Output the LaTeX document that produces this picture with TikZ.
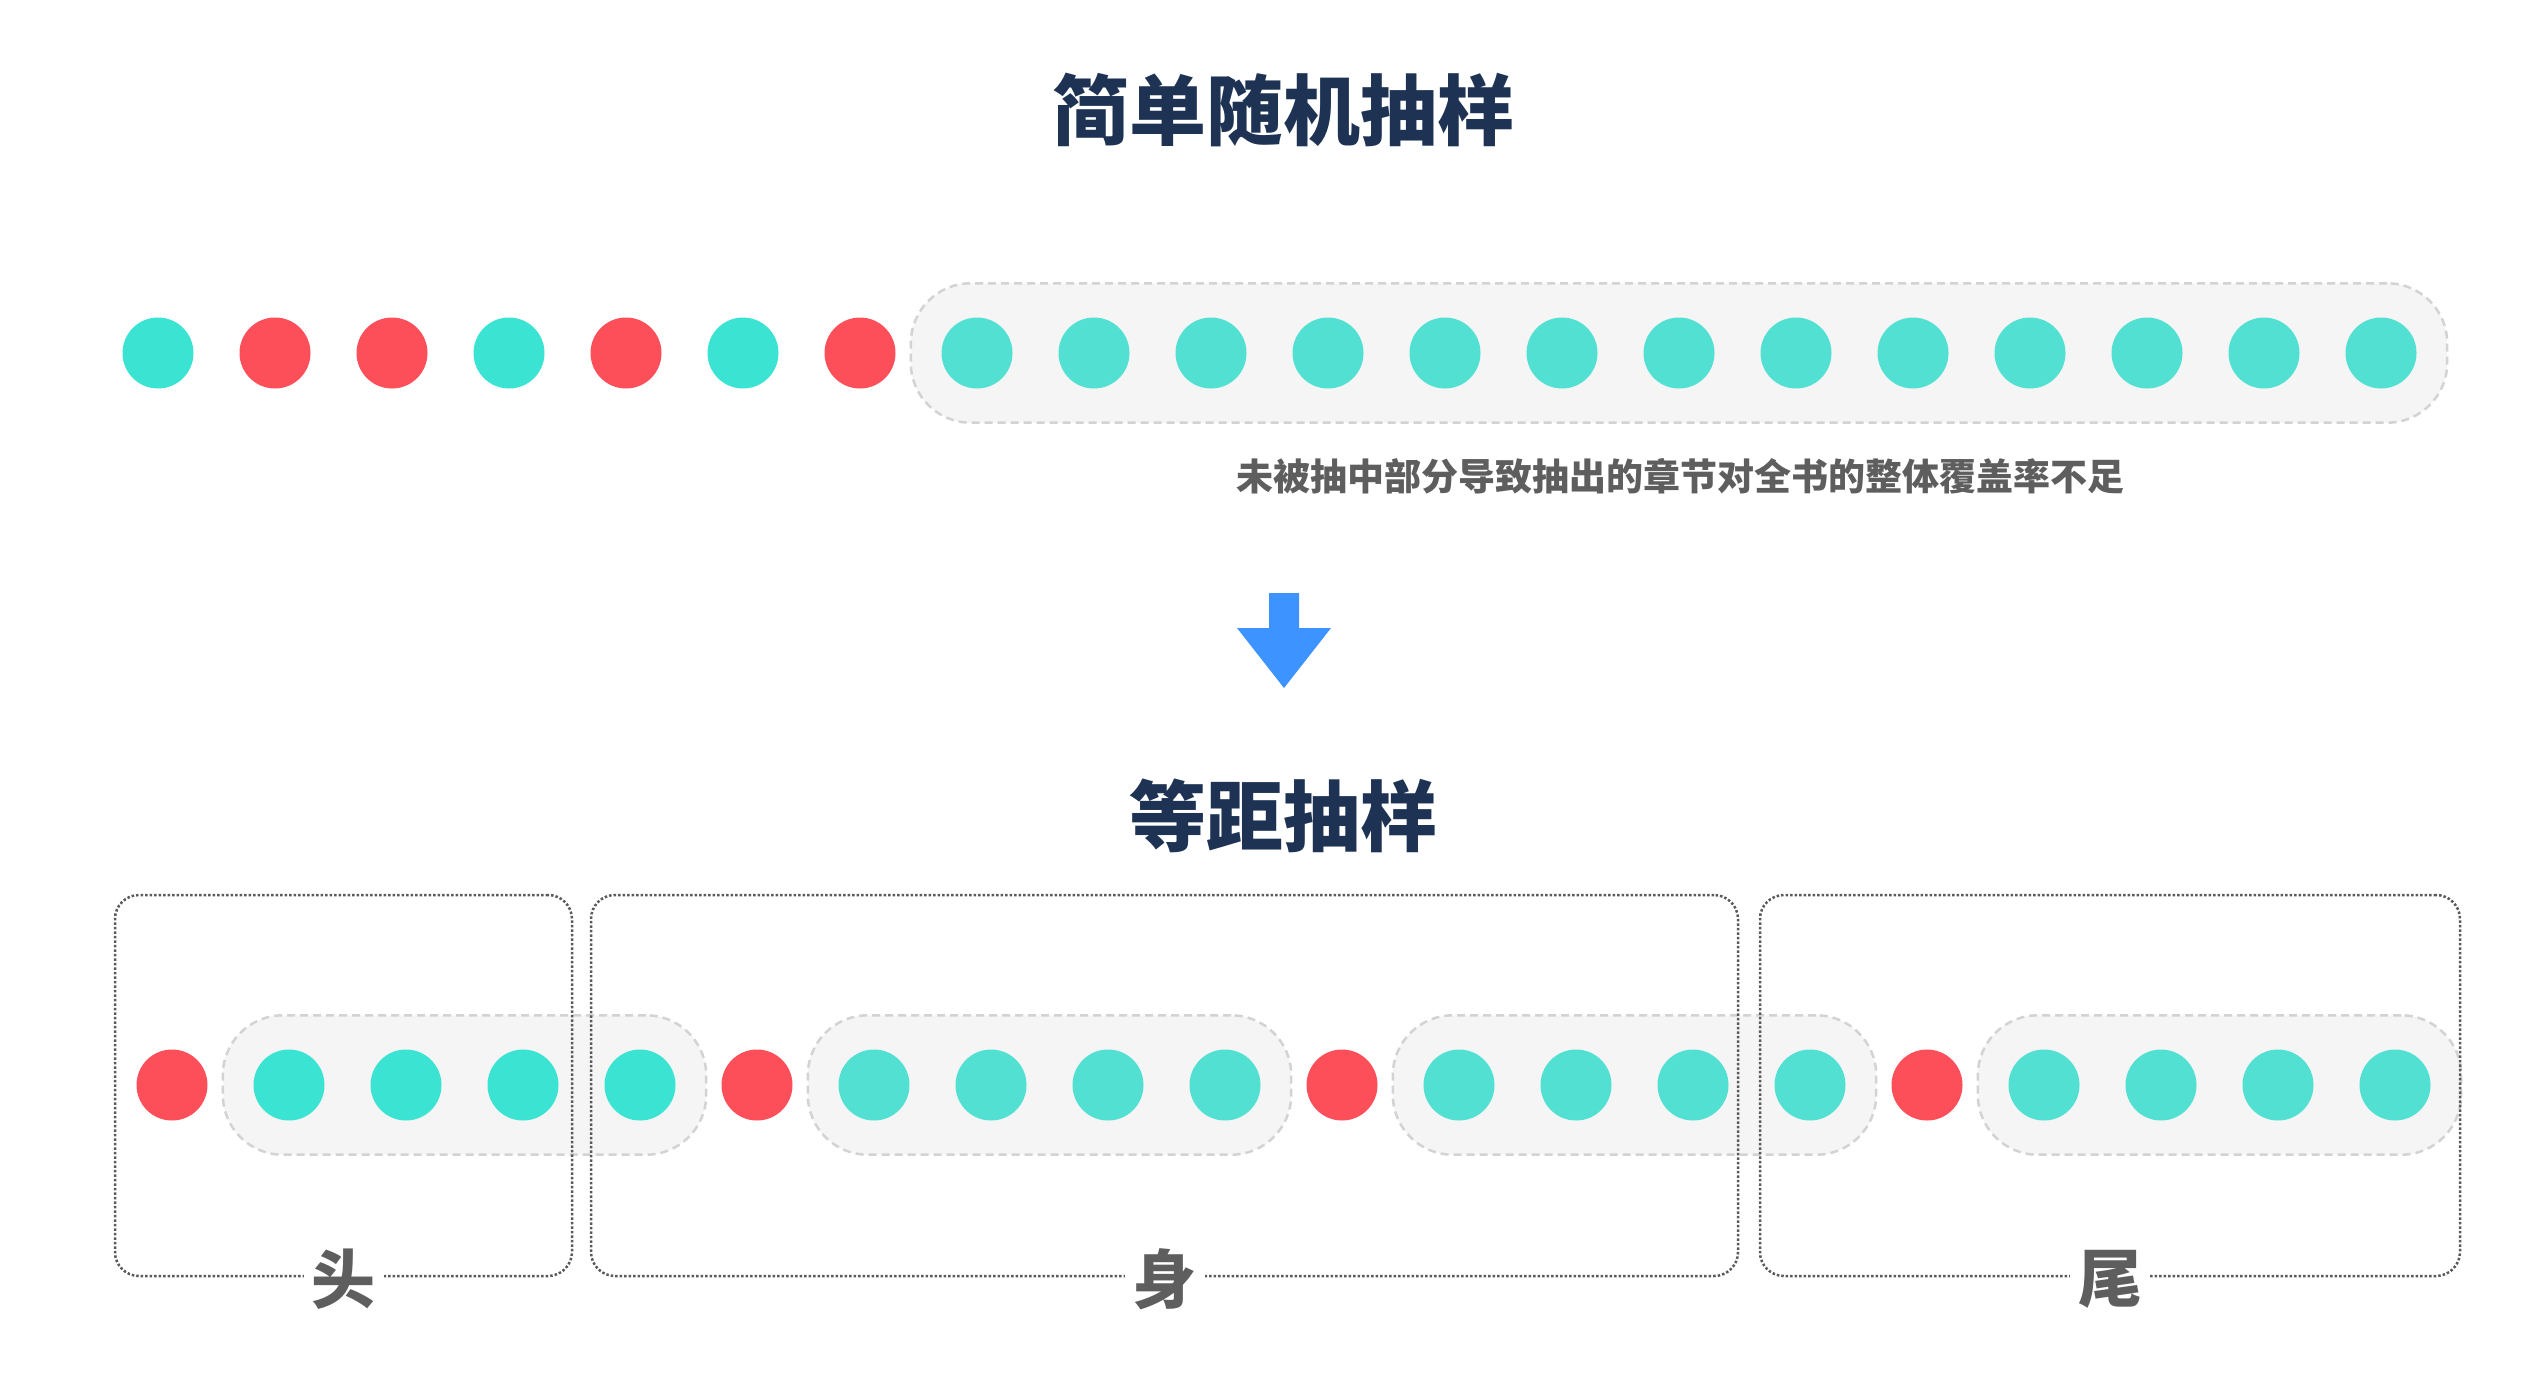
\documentclass[tikz,border=0pt]{standalone}
\usepackage{fontspec}
\newfontfamily\cjk{Noto Sans CJK SC}
\usetikzlibrary{positioning,fit,backgrounds}
\definecolor{navy}{HTML}{1E3354}
\definecolor{rd}{HTML}{FC4F59}
\definecolor{tq}{HTML}{3BE3D2}
\definecolor{tl}{HTML}{52E0D3}
\definecolor{pillfill}{HTML}{F5F5F5}
\definecolor{pillline}{HTML}{D3D3D3}
\definecolor{frameline}{HTML}{5A5A5A}
\definecolor{txtgray}{HTML}{5E5E5E}
\definecolor{arrowblue}{HTML}{3D93FF}

\begin{document}
\begin{tikzpicture}[x=1pt, y=-1pt, node distance=46pt,
  dot/.style={circle, inner sep=0pt, minimum size=71pt},
  pill/.style={draw=pillline, fill=pillfill, line width=2.5pt, dash pattern=on 8pt off 5pt, rounded corners=60pt, inner xsep=30.5pt, inner ysep=34pt},
  frame/.style={draw=frameline, line width=2.5pt, dash pattern=on 2.5pt off 2pt, rounded corners=24pt, minimum height=381pt},
  ttl/.style={font=\cjk\bfseries\fontsize{77pt}{92pt}\selectfont, text=navy},
  note/.style={font=\cjk\bfseries\fontsize{37pt}{44pt}\selectfont, text=txtgray},
  lbl/.style={font=\cjk\bfseries\fontsize{64pt}{76pt}\selectfont, text=txtgray, fill=white, inner xsep=8pt, inner ysep=0pt}]
  \useasboundingbox (0,0) rectangle (2524,1378);

  % simple random sampling
  \node[ttl] (ttl1) at (1283,110) {简单随机抽样};
  \foreach \c [count=\i] in {tq,rd,rd,tq,rd,tq,rd,tl,tl,tl,tl,tl,tl,tl,tl,tl,tl,tl,tl,tl}
    \node[dot, fill=\c] (t\i) at ({158+117*(\i-1)},353) {};
  \begin{scope}[on background layer]
    \node[pill, fit=(t8)(t20)] (gap) {};
  \end{scope}
  \node[note] (cap) at (1680,476) {未被抽中部分导致抽出的章节对全书的整体覆盖率不足};

  \fill[arrowblue] (1269,593) -- (1299,593) -- (1299,628) -- (1331,628) -- (1284,688)
    -- (1237,628) -- (1269,628) -- cycle;

  % systematic sampling
  \node[ttl] (ttl2) at (1283,816) {等距抽样};
  \foreach \c [count=\i] in {rd,tq,tq,tq,tq,rd,tl,tl,tl,tl,rd,tl,tl,tl,tl,rd,tl,tl,tl,tl}
    \node[dot, fill=\c] (b\i) at ({172+117*(\i-1)},1085) {};
  \begin{scope}[on background layer]
    \foreach \a/\b in {2/5,7/10,12/15,17/20}
      \node[pill, fit=(b\a)(b\b)] (run\a) {};
  \end{scope}

  \node[frame, minimum width=457pt] (head) at (343.5,1085.5) {};
  \node[frame, minimum width=1147pt] (body) at (1164.5,1085.5) {};
  \node[frame, minimum width=700pt] (tail) at (2110,1085.5) {};
  \node[lbl, yshift=-2pt] (headlbl) at (head.south) {头};
  \node[lbl, yshift=-2pt] (bodylbl) at (body.south) {身};
  \node[lbl, yshift=-2pt] (taillbl) at (tail.south) {尾};
\end{tikzpicture}
\end{document}
